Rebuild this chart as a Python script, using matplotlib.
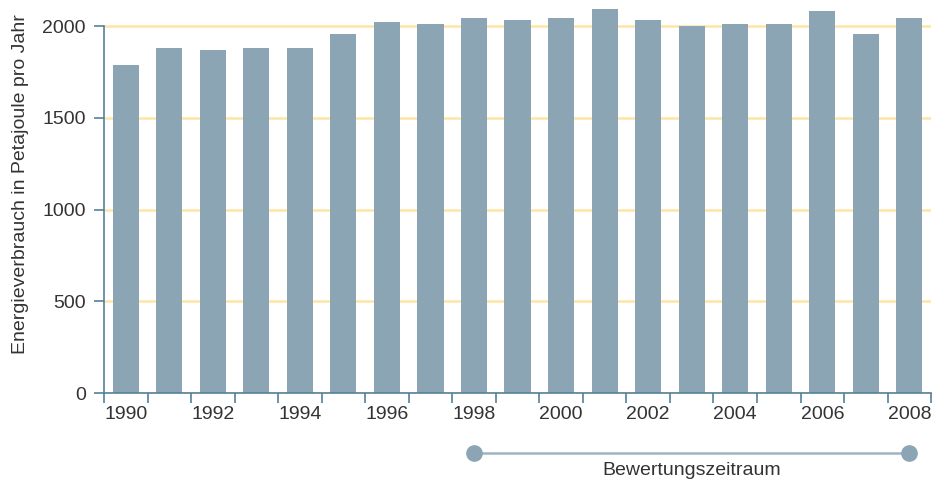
import matplotlib
import matplotlib.pyplot as plt
import matplotlib.transforms as mtransforms
import numpy as np

matplotlib.use("Agg")

years = list(range(1990, 2009))
consumption = [1787, 1880, 1869, 1880, 1880, 1956, 2022, 2011, 2044, 2033,
               2044, 2093, 2033, 2000, 2011, 2011, 2082, 1956, 2044]
y_ticks = [0, 500, 1000, 1500, 2000]
x_labels = list(range(1990, 2009, 2))
period = (1998, 2008)
period_label = "Bewertungszeitraum"
y_label = "Energieverbrauch in Petajoule pro Jahr"

bar_color = "#8ba5b5"
axis_color = "#55809a"
grid_color = "#fde5a6"
text_color = "#333333"

plt.rcParams["font.family"] = ["Liberation Sans", "DejaVu Sans"]

fig = plt.figure(figsize=(9.41, 4.82), dpi=100)
ax = fig.add_axes([0.1105, 0.1846, 0.879, 0.7994])

ax.bar(years, consumption, width=0.6, color=bar_color, zorder=2)

ax.set_xlim(1989.5, 2008.5)
ax.set_ylim(0, 2100)
ax.set_yticks(y_ticks)
ax.yaxis.grid(True, color=grid_color, linewidth=1.8, zorder=0)
ax.set_axisbelow(True)

ax.set_xticks(x_labels)
ax.set_xticks(np.arange(1989.5, 2009, 1), minor=True)
ax.tick_params(axis="x", which="major", length=0, pad=9,
               labelsize=14, labelcolor=text_color)
ax.tick_params(axis="x", which="minor", length=7, width=1.2,
               color=axis_color, direction="out")
ax.tick_params(axis="y", length=7, width=1.2, color=axis_color,
               labelsize=14, labelcolor=text_color, pad=6)

for side in ("top", "right"):
    ax.spines[side].set_visible(False)
for side in ("left", "bottom"):
    ax.spines[side].set_color(axis_color)
    ax.spines[side].set_linewidth(1.2)
ax.spines["left"].set_bounds(0, 2000)

fig.text(21 / 941, 1 - 184 / 482, y_label, rotation=90, ha="center",
         va="center", fontsize=14, color=text_color)

# Bewertungszeitraum marker below the axis
trans = mtransforms.blended_transform_factory(ax.transData, ax.transAxes)
ax.plot(period, [-0.156, -0.156], transform=trans, color="#9fb5c2",
        linewidth=1.8, clip_on=False)
ax.plot(period, [-0.156, -0.156], transform=trans, linestyle="none",
        marker="o", markersize=11, color=bar_color, clip_on=False)
ax.text(sum(period) / 2, -0.2, period_label, transform=trans,
        ha="center", va="center", fontsize=14, color=text_color)

fig.savefig("out.png", dpi=100)
